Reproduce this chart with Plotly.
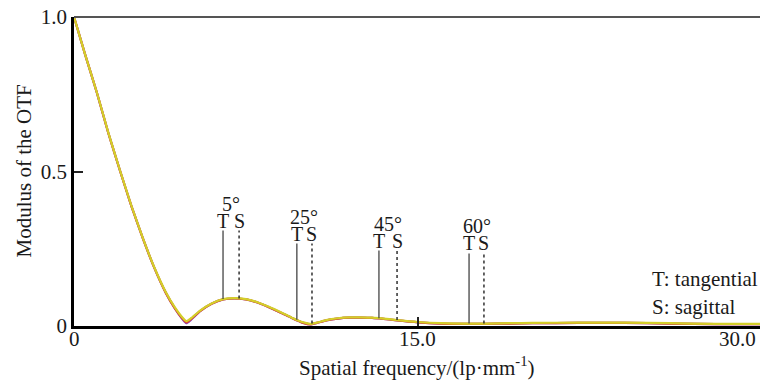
import numpy as np
import plotly.graph_objects as go

# ---------------- data ----------------
freq = [0, 0.5, 1.0, 1.5, 2.0, 2.5, 3.0, 3.5, 4.0, 4.4, 4.7, 4.9, 5.1, 5.5, 6.0, 6.5,
        7.0, 7.5, 8.0, 8.5, 9.0, 9.5, 10.0, 10.3, 10.6, 11.0, 11.5, 12.0, 12.5, 13.0,
        13.5, 14.0, 15.0, 16.0, 17.0, 18.0, 19.0, 20.0, 22.0, 24.0, 26.0, 28.0, 30.0]
mtf_yellow = [1.0, 0.875, 0.755, 0.625, 0.505, 0.39, 0.285, 0.19, 0.11, 0.06, 0.03, 0.016,
              0.025, 0.05, 0.073, 0.087, 0.09, 0.087, 0.077, 0.062, 0.045, 0.027, 0.012,
              0.007, 0.011, 0.019, 0.025, 0.028, 0.028, 0.027, 0.024, 0.02, 0.013, 0.009,
              0.008, 0.008, 0.009, 0.01, 0.011, 0.011, 0.009, 0.007, 0.007]
mtf_red = [1.0, 0.875, 0.755, 0.624, 0.504, 0.389, 0.284, 0.189, 0.108, 0.057, 0.027, 0.012,
           0.022, 0.048, 0.072, 0.086, 0.089, 0.086, 0.076, 0.061, 0.044, 0.026, 0.010,
           0.005, 0.010, 0.018, 0.024, 0.027, 0.027, 0.026, 0.023, 0.019, 0.012, 0.008,
           0.007, 0.007, 0.008, 0.009, 0.010, 0.010, 0.008, 0.006, 0.006]
mtf_purple = [1.0, 0.875, 0.754, 0.624, 0.504, 0.389, 0.284, 0.189, 0.108, 0.057, 0.025, 0.009,
              0.020, 0.048, 0.072, 0.086, 0.089, 0.086, 0.076, 0.061, 0.044, 0.026, 0.010,
              0.005, 0.010, 0.018, 0.024, 0.027, 0.027, 0.026, 0.023, 0.019, 0.012, 0.008,
              0.007, 0.007, 0.008, 0.009, 0.010, 0.010, 0.008, 0.006, 0.006]

field_labels = ["5°", "25°", "45°", "60°"]
t_freq = [6.5, 9.72, 13.3, 17.23]
s_freq = [7.2, 10.38, 14.09, 17.88]

x_ticks = [0, 15]
x_ticktext = ["0", "15.0"]
x_last_tick = "30.0"
y_ticks = [0, 0.5, 1.0]
y_ticktext = ["0", "0.5", "1.0"]

# ---------------- layout config ----------------
leader_top = [0.309, 0.267, 0.244, 0.235]
FONT = "Liberation Serif"
TXT = "#1a1a1a"


def tfont(size):
    return dict(family=FONT, size=size, color=TXT)


fig = go.Figure()
fig.add_trace(go.Scatter(x=freq, y=mtf_purple, mode="lines",
                         line=dict(color="#8a3cc0", width=2.2, shape="spline", smoothing=0.5),
                         hoverinfo="skip", showlegend=False))
fig.add_trace(go.Scatter(x=freq, y=mtf_red, mode="lines",
                         line=dict(color="#d8502a", width=2.2, shape="spline", smoothing=0.5),
                         hoverinfo="skip", showlegend=False))
fig.add_trace(go.Scatter(x=freq, y=mtf_yellow, mode="lines",
                         line=dict(color="#d4cf2a", width=2.2, shape="spline", smoothing=0.5),
                         showlegend=False))

shapes = []
annotations = []
for lab, tf, sf, top in zip(field_labels, t_freq, s_freq, leader_top):
    yt = float(np.interp(tf, freq, mtf_yellow))
    ys = float(np.interp(sf, freq, mtf_yellow))
    shapes.append(dict(type="line", xref="x", yref="y", x0=tf, x1=tf, y0=yt, y1=top,
                       line=dict(color="#444444", width=1.3)))
    shapes.append(dict(type="line", xref="x", yref="y", x0=sf, x1=sf, y0=ys, y1=top,
                       line=dict(color="#222222", width=1.4, dash="dot")))
    annotations.append(dict(x=tf, y=top, xref="x", yref="y", text="T", showarrow=False,
                            yanchor="middle", yshift=10, font=tfont(20)))
    annotations.append(dict(x=sf, y=top, xref="x", yref="y", text="S", showarrow=False,
                            yanchor="middle", yshift=10, font=tfont(20)))
    annotations.append(dict(x=(tf + sf) / 2, y=top, xref="x", yref="y", text=lab, showarrow=False,
                            yanchor="middle", yshift=27, font=tfont(20)))

# top border
shapes.append(dict(type="line", xref="paper", yref="paper", x0=0, x1=1, y0=1, y1=1,
                   line=dict(color="#555555", width=2)))

# legend text
annotations.append(dict(x=1, y=0, xref="paper", yref="paper", text="T: tangential",
                        showarrow=False, xanchor="left", yanchor="middle", xshift=-110, yshift=47,
                        font=tfont(21)))
annotations.append(dict(x=1, y=0, xref="paper", yref="paper", text="S: sagittal",
                        showarrow=False, xanchor="left", yanchor="middle", xshift=-110, yshift=19,
                        font=tfont(21)))
# x tick labels
for tv, tt in zip(x_ticks, x_ticktext):
    annotations.append(dict(x=tv, y=0, xref="x", yref="paper", text=tt, showarrow=False,
                            xanchor="center", yanchor="middle", yshift=-13, font=tfont(21)))
annotations.append(dict(x=1, y=0, xref="paper", yref="paper", text=x_last_tick,
                        showarrow=False, xanchor="right", yanchor="middle", xshift=-2, yshift=-13,
                        font=tfont(21)))
# axis titles
annotations.append(dict(x=0, y=0.5, xref="paper", yref="paper", text="Modulus of the OTF",
                        showarrow=False, textangle=-90, xanchor="center", yanchor="middle",
                        xshift=-51, font=tfont(21)))
annotations.append(dict(x=0.5, y=0, xref="paper", yref="paper",
                        text="Spatial frequency/(lp·mm<sup>-1</sup>)",
                        showarrow=False, xanchor="center", yanchor="middle",
                        yshift=-40, font=tfont(21)))

fig.update_layout(
    width=760, height=383,
    margin=dict(l=74, r=0, t=17, b=57),
    paper_bgcolor="white", plot_bgcolor="white",
    shapes=shapes, annotations=annotations,
    font=tfont(20),
)
fig.update_xaxes(range=[0, 29.92], tickvals=x_ticks, showticklabels=False,
                 ticks="inside", ticklen=9, tickwidth=2, tickcolor="#222",
                 showline=True, linecolor="#000", linewidth=3,
                 showgrid=False, zeroline=False)
fig.update_yaxes(range=[0, 1.0], tickvals=y_ticks, ticktext=y_ticktext,
                 ticks="inside", ticklen=9, tickwidth=2, tickcolor="#222",
                 showline=True, linecolor="#000", linewidth=2.5,
                 showgrid=False, zeroline=False, tickfont=tfont(21))

fig.write_html("out.html")
